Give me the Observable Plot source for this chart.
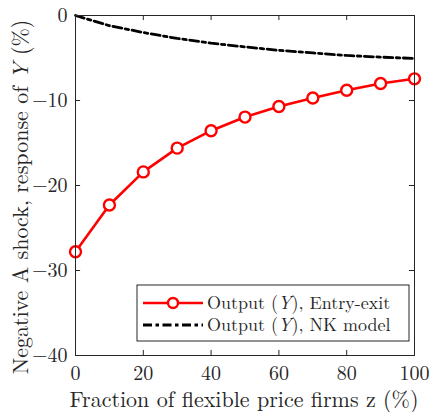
<!DOCTYPE html>
<html>
<head>
<meta charset="utf-8">
<script src="https://cdn.jsdelivr.net/npm/d3@7"></script>
<script src="https://cdn.jsdelivr.net/npm/@observablehq/plot@0.6"></script>
<style>
  html, body { margin: 0; padding: 0; background: #fff; }
  #chart svg { display: block; }
</style>
</head>
<body>
<div id="chart"></div>
<script>
// Data
const fraction = [0, 10, 20, 30, 40, 50, 60, 70, 80, 90, 100];
const entryExit = [-27.8, -22.3, -18.4, -15.6, -13.55, -11.95, -10.7, -9.7, -8.8, -8.0, -7.45];
const nkModel = [0, -1.2, -2.0, -2.7, -3.25, -3.7, -4.1, -4.4, -4.7, -4.9, -5.05];
const xTicks = [0, 20, 40, 60, 80, 100];
const yTicks = [0, -10, -20, -30, -40];
const seriesNames = ["Entry-exit", "NK model"];

const rows = fraction.map((z, i) => ({z, ee: entryExit[i], nk: nkModel[i]}));

const FONT = "Latin Modern Roman";
const INK = "#262626";

const plot = Plot.plot({
  width: 430,
  height: 412,
  marginLeft: 75,
  marginRight: 16,
  marginTop: 15,
  marginBottom: 57,
  style: {fontFamily: FONT, fontSize: "20px", color: INK, background: "#fff"},
  x: {domain: [0, 100]},
  y: {domain: [-40, 0]},
  marks: [
    // inward ticks on all four sides
    Plot.ruleX(xTicks, {y1: -40, y2: -39.4, stroke: INK, strokeWidth: 1}),
    Plot.ruleX(xTicks, {y1: 0, y2: -0.6, stroke: INK, strokeWidth: 1}),
    Plot.ruleY(yTicks, {x1: 0, x2: 1.5, stroke: INK, strokeWidth: 1}),
    Plot.ruleY(yTicks, {x1: 100, x2: 98.5, stroke: INK, strokeWidth: 1}),
    Plot.axisX({ticks: xTicks, tickSize: 0, tickPadding: 10, label: null, fontSize: 20, fontFamily: FONT, fill: INK}),
    Plot.axisY({ticks: yTicks, tickSize: 0, tickPadding: 8, label: null, fontSize: 20, fontFamily: FONT, fill: INK}),
    Plot.line(rows, {x: "z", y: "nk", stroke: "#000", strokeWidth: 2.8, strokeDasharray: "9,3.5,3.5,3.5"}),
    Plot.line(rows, {x: "z", y: "ee", stroke: "#ff0000", strokeWidth: 2.6}),
    Plot.dot(rows, {x: "z", y: "ee", r: 5.5, stroke: "#ff0000", strokeWidth: 2.4, fill: "#fff"}),
    Plot.frame({stroke: INK, strokeWidth: 1})
  ]
});

document.getElementById("chart").appendChild(plot);

const svg = d3.select(plot);

// Axis labels with italic Y
svg.append("text")
  .attr("x", 244).attr("y", 407)
  .attr("text-anchor", "middle")
  .attr("font-family", FONT)
  .attr("font-size", 22).attr("fill", INK)
  .text("Fraction of flexible price firms z (%)");

const yl = svg.append("text")
  .attr("transform", "translate(28,197) rotate(-90)")
  .attr("text-anchor", "middle")
  .attr("font-family", FONT)
  .attr("font-size", 22).attr("fill", INK);
yl.append("tspan").text("Negative A shock, response of ");
yl.append("tspan").attr("font-style", "italic").text("Y");
yl.append("tspan").text(" (%)");

// Legend box
const lg = svg.append("g").attr("font-family", FONT).attr("font-size", 18).attr("fill", INK).attr("text-anchor", "start");
lg.append("rect").attr("x", 137).attr("y", 285).attr("width", 272).attr("height", 56)
  .attr("fill", "#fff").attr("stroke", INK).attr("stroke-width", 1);
const rowY = [303, 325];
lg.append("line").attr("x1", 143).attr("x2", 203).attr("y1", rowY[0]).attr("y2", rowY[0])
  .attr("stroke", "#ff0000").attr("stroke-width", 2.6);
lg.append("circle").attr("cx", 173).attr("cy", rowY[0]).attr("r", 5).attr("fill", "#fff")
  .attr("stroke", "#ff0000").attr("stroke-width", 2.4);
lg.append("line").attr("x1", 143).attr("x2", 203).attr("y1", rowY[1]).attr("y2", rowY[1])
  .attr("stroke", "#000").attr("stroke-width", 2.8).attr("stroke-dasharray", "9,3.5,3.5,3.5");
seriesNames.forEach((name, i) => {
  const t = lg.append("text").attr("x", 207).attr("y", rowY[i]).attr("dy", "0.35em")
    .attr("font-family", FONT).attr("text-anchor", "start");
  t.append("tspan").text("Output (");
  t.append("tspan").attr("font-style", "italic").text("Y");
  t.append("tspan").text("), " + name);
});
</script>
</body>
</html>
